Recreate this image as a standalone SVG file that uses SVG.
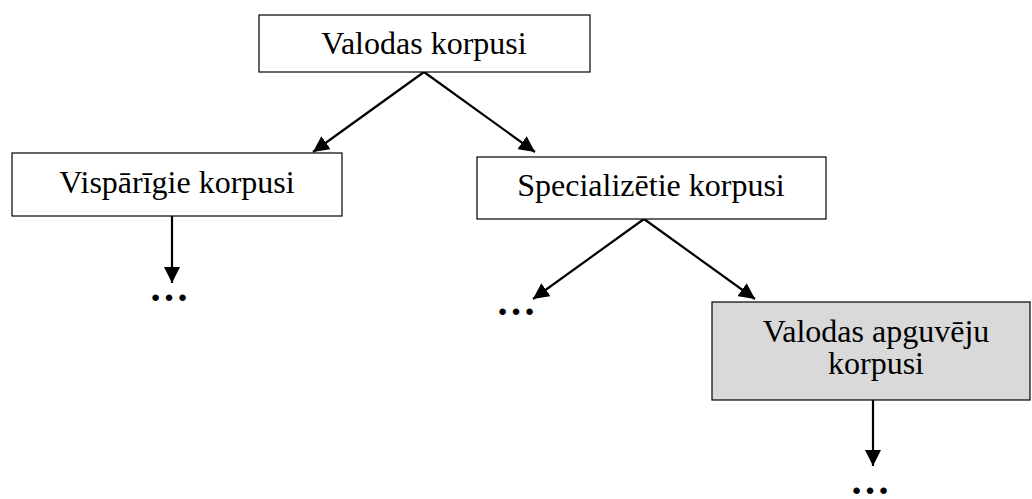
<svg xmlns="http://www.w3.org/2000/svg" width="1032" height="499" viewBox="0 0 1032 499">
<style>
.box{fill:#fff;stroke:#000;stroke-width:1.2}
.gray{fill:#d9d9d9}
.t{font-family:"Liberation Serif","Times New Roman",serif;font-size:32px;fill:#000;text-anchor:middle}
.dots{font-family:"Liberation Serif","Times New Roman",serif;font-size:40px;font-weight:bold;fill:#000;text-anchor:middle}
.c{stroke:#000;stroke-width:2.2;fill:none;marker-end:url(#ah)}
</style>
<defs>
<marker id="ah" viewBox="0 0 10 10" refX="10" refY="5" markerWidth="16" markerHeight="16" markerUnits="userSpaceOnUse" orient="auto">
<path d="M0,0 L10,5 L0,10 z" fill="#000"/>
</marker>
</defs>
<g id="connectors">
<line class="c" x1="424" y1="72" x2="313" y2="152"/>
<line class="c" x1="424" y1="72" x2="535" y2="152"/>
<line class="c" x1="172" y1="216" x2="172" y2="283"/>
<line class="c" x1="644" y1="219" x2="533" y2="299"/>
<line class="c" x1="644" y1="219" x2="755" y2="299"/>
<line class="c" x1="873" y1="400" x2="873" y2="466"/>
</g>
<g id="n-root">
<rect class="box" x="259" y="15" width="331" height="57"/>
<text class="t" x="424" y="54">Valodas korpusi</text>
</g>
<g id="n-general">
<rect class="box" x="12" y="153" width="330" height="63"/>
<text class="t" x="177" y="193">Vispārīgie korpusi</text>
</g>
<g id="n-special">
<rect class="box" x="477" y="157" width="349" height="62"/>
<text class="t" x="651" y="196">Specializētie korpusi</text>
</g>
<g id="n-learner">
<rect class="box gray" x="712" y="302" width="318" height="98"/>
<text class="t" x="876" y="342"><tspan x="876" y="342">Valodas apguvēju</tspan><tspan x="876" y="374">korpusi</tspan></text>
</g>
<g id="ellipses">
<text class="dots" x="169" y="301">…</text>
<text class="dots" x="516" y="315">…</text>
<text class="dots" x="870" y="494">…</text>
</g>
</svg>
